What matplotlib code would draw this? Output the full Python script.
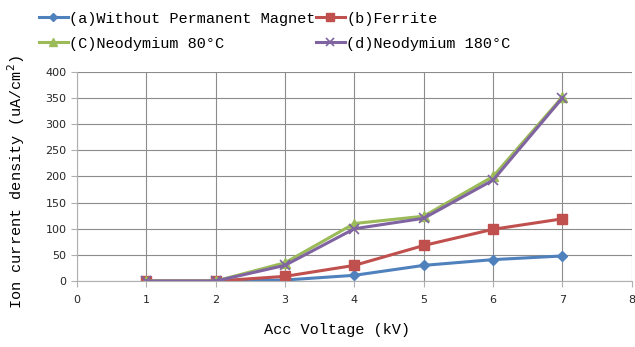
import numpy as np
import matplotlib
matplotlib.use("Agg")
import matplotlib.pyplot as plt

# accelerating voltage (kV) and ion current density (uA/cm^2)
voltage = [1, 2, 3, 4, 5, 6, 7]
no_magnet = [0, 0, 2, 11, 30, 41, 48]
ferrite = [0, 0, 9, 30, 68, 99, 119]
neo_80 = [0, 0, 35, 110, 124, 200, 352]
neo_180 = [0, 0, 30, 100, 120, 193, 350]

labels = ["(a)Without Permanent Magnet", "(b)Ferrite",
          "(C)Neodymium 80\u00b0C", "(d)Neodymium 180\u00b0C"]

fig = plt.figure(figsize=(6.35, 3.47), dpi=100)
ax = fig.add_axes([0.121, 0.19, 0.874, 0.603])

la, = ax.plot(voltage, no_magnet, color="#4F81BD", marker="D", ms=5, lw=2.2, label=labels[0])
lb, = ax.plot(voltage, ferrite, color="#C0504D", marker="s", ms=7, lw=2.2, label=labels[1])
lc, = ax.plot(voltage, neo_80, color="#9BBB59", marker="^", ms=7, lw=2.2, label=labels[2])
ld, = ax.plot(voltage, neo_180, color="#8064A2", marker="x", ms=7, mew=1.2, lw=2.2, label=labels[3])

ax.set_xlim(0, 8)
ax.set_ylim(0, 400)
ax.set_xticks(range(0, 9))
ax.set_yticks(range(0, 401, 50))
ax.grid(True, color="#8c8c8c", lw=0.8)
ax.set_axisbelow(True)
for s in ["top", "right"]:
    ax.spines[s].set_visible(False)
for s in ["left", "bottom"]:
    ax.spines[s].set_color("#b0b0b0")
ax.tick_params(axis="both", colors="#b0b0b0", length=4, labelsize=8,
               labelcolor="#262626")
ax.tick_params(axis="x", pad=6)

mono = "Liberation Mono"
ax.set_xlabel("Acc Voltage (kV)", fontsize=11, family=mono, labelpad=13)
ax.xaxis.label.set_x(0.468)
ax.set_ylabel("Ion current density (uA/cm$^2$)", fontsize=11, family=mono)
ax.yaxis.set_label_coords(-0.09, 0.474)

fig.legend(handles=[la, lc, lb, ld], loc="upper left", bbox_to_anchor=(0.061, 0.966),
           ncol=2, frameon=False, prop={"family": mono, "size": 11},
           handlelength=1.9, handletextpad=0.1, columnspacing=0.0,
           labelspacing=0.72, borderpad=0, borderaxespad=0, markerscale=0.8)

fig.savefig("out.png", dpi=100)
